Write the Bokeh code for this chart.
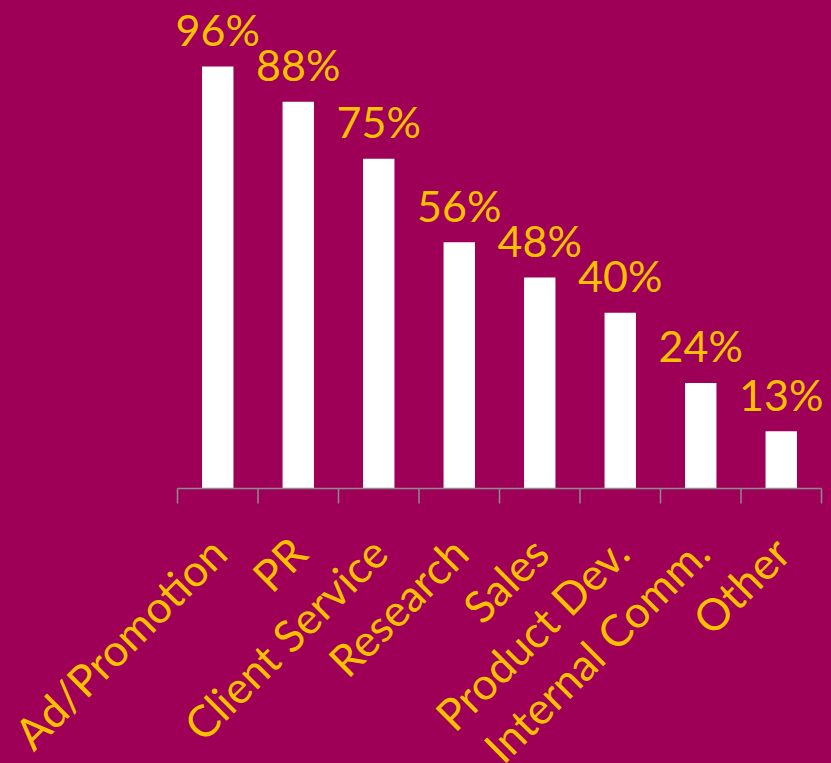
import math
from bokeh.plotting import figure
from bokeh.models import ColumnDataSource, Range1d
from bokeh.core.properties import value
from bokeh.embed import file_html
from bokeh.resources import INLINE

categories = ["Ad/Promotion", "PR", "Client Service", "Research", "Sales",
              "Product Dev.", "Internal Comm.", "Other"]
values = [96, 88, 75, 56, 48, 40, 24, 13]
value_labels = ["96%", "88%", "75%", "56%", "48%", "40%", "24%", "13%"]

BG = "#9E0058"
GOLD = "#FFC000"
AXIS = "#8C8C8C"
FONT = "Lato"

W, H = 831, 763
AX_LEFT, AX_RIGHT, AX_Y = 177, 821, 488   # pixel placement of the category axis
PX_PER_UNIT = 4.396                       # vertical scale (px per percent)

n = len(categories)
xs = [i + 0.5 for i in range(n)]
bounds = list(range(n + 1))
ux = (AX_RIGHT - AX_LEFT) / n
x_range = Range1d(-AX_LEFT / ux, n + (W - AX_RIGHT) / ux)
y_range = Range1d(-(H - AX_Y) / PX_PER_UNIT, AX_Y / PX_PER_UNIT)

src = ColumnDataSource(dict(x=xs, top=values, lab=value_labels, cat=categories,
                            zero=[0] * n))

p = figure(width=W, height=H, output_backend="svg", toolbar_location=None,
           x_range=x_range, y_range=y_range,
           min_border_left=0, min_border_right=0, min_border_top=0,
           min_border_bottom=0)
p.background_fill_color = BG
p.border_fill_color = BG
p.outline_line_color = None
p.grid.visible = False
p.axis.visible = False

p.vbar(x="x", top="top", width=0.39, bottom=0, source=src,
       fill_color="white", line_color=None)
p.text(x="x", y="top", text="lab", source=src, y_offset=-37,
       text_align="center", text_baseline="alphabetic",
       text_color=GOLD, text_font=value(FONT), text_font_size="43px")

# category axis line and boundary ticks
p.segment(x0=[0], x1=[n], y0=[0], y1=[0], line_color=AXIS, line_width=1.5)
p.ray(x=bounds, y=[0] * len(bounds), length=15, length_units="screen",
      angle=-math.pi / 2, line_color=AXIS, line_width=1.5)

# rotated category labels
p.text(x="x", y="zero", text="cat", source=src, angle=math.pi / 4,
       x_offset=0, y_offset=56, text_align="right", text_baseline="middle",
       text_color=GOLD, text_font=value(FONT), text_font_size="44px")

html = file_html(p, INLINE)
html = html.replace("</head>",
                    "<style>html,body{background:%s;}</style></head>" % BG, 1)
open("out.html", "w").write(html)
